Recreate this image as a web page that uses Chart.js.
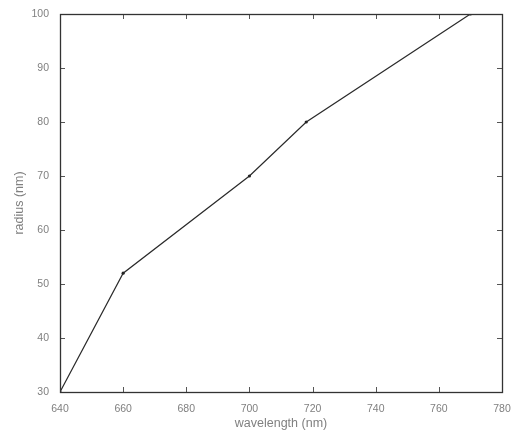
<!DOCTYPE html>
<html>
<head>
<meta charset="utf-8">
<script src="https://cdn.jsdelivr.net/npm/chart.js@4"></script>
<style>
  html, body { margin: 0; padding: 0; background: #fff; }
  #wrap { width: 515px; height: 434px; }
</style>
</head>
<body>
<div id="wrap"><canvas id="radiusChart" width="515" height="434"></canvas></div>
<script>
// wavelength (nm) vs radius (nm)
const wavelength = [640, 660, 700, 718, 770];
const radius = [30, 52, 70, 80, 100];
const xTicks = [640, 660, 680, 700, 720, 740, 760, 780];
const yTicks = [30, 40, 50, 60, 70, 80, 90, 100];

const points = wavelength.map((w, i) => ({ x: w, y: radius[i] }));

// MATLAB style box with inward ticks on all four sides
const boxPlugin = {
  id: "box",
  afterDraw(chart) {
    const { ctx, chartArea: a, scales } = chart;
    const len = 5;
    ctx.save();
    ctx.strokeStyle = "#555";
    ctx.lineWidth = 1;
    ctx.beginPath();
    xTicks.forEach((v) => {
      const px = Math.round(scales.x.getPixelForValue(v)) + 0.5;
      ctx.moveTo(px, a.bottom);
      ctx.lineTo(px, a.bottom - len);
      ctx.moveTo(px, a.top);
      ctx.lineTo(px, a.top + len);
    });
    yTicks.forEach((v) => {
      const py = Math.round(scales.y.getPixelForValue(v)) + 0.5;
      ctx.moveTo(a.left, py);
      ctx.lineTo(a.left + len, py);
      ctx.moveTo(a.right, py);
      ctx.lineTo(a.right - len, py);
    });
    ctx.stroke();
    ctx.strokeStyle = "#333";
    ctx.lineWidth = 1.3;
    ctx.strokeRect(
      Math.round(a.left) + 0.5,
      Math.round(a.top) + 0.5,
      Math.round(a.right - a.left),
      Math.round(a.bottom - a.top)
    );
    ctx.restore();
  },
};

const ctx = document.getElementById("radiusChart");
const chart = new Chart(ctx, {
  type: "line",
  data: {
    datasets: [
      {
        data: points,
        borderColor: "#2a2a2a",
        borderWidth: 1.2,
        pointRadius: 1.6,
        pointBackgroundColor: "#222",
        pointBorderColor: "#222",
        pointBorderWidth: 0,
        tension: 0,
      },
    ],
  },
  options: {
    responsive: false,
    animation: false,
    layout: { padding: { left: 0, top: 14, right: 13, bottom: 0 } },
    plugins: { legend: { display: false }, tooltip: { enabled: false } },
    scales: {
      x: {
        type: "linear",
        min: 640,
        max: 780,
        afterBuildTicks: (s) => { s.ticks = xTicks.map((v) => ({ value: v })); },
        afterFit: (s) => { s.height = 42; },
        grid: { display: false },
        border: { display: false },
        ticks: {
          color: "#808080",
          font: { family: "Liberation Sans", size: 10.5 },
          padding: 3,
          maxRotation: 0,
          autoSkip: false,
        },
        title: {
          display: true,
          text: "wavelength (nm)",
          color: "#808080",
          font: { family: "Liberation Sans", size: 12.5 },
          padding: { top: 0, bottom: 3 },
        },
      },
      y: {
        type: "linear",
        min: 30,
        max: 100,
        afterBuildTicks: (s) => { s.ticks = yTicks.map((v) => ({ value: v })); },
        afterFit: (s) => { s.width = 60; },
        grid: { display: false },
        border: { display: false },
        ticks: {
          color: "#808080",
          font: { family: "Liberation Sans", size: 10.5 },
          padding: 3,
        },
        title: {
          display: true,
          text: "radius (nm)",
          color: "#808080",
          font: { family: "Liberation Sans", size: 12.5 },
          padding: { top: 12, bottom: 0 },
        },
      },
    },
  },
  plugins: [boxPlugin],
});
</script>
</body>
</html>
